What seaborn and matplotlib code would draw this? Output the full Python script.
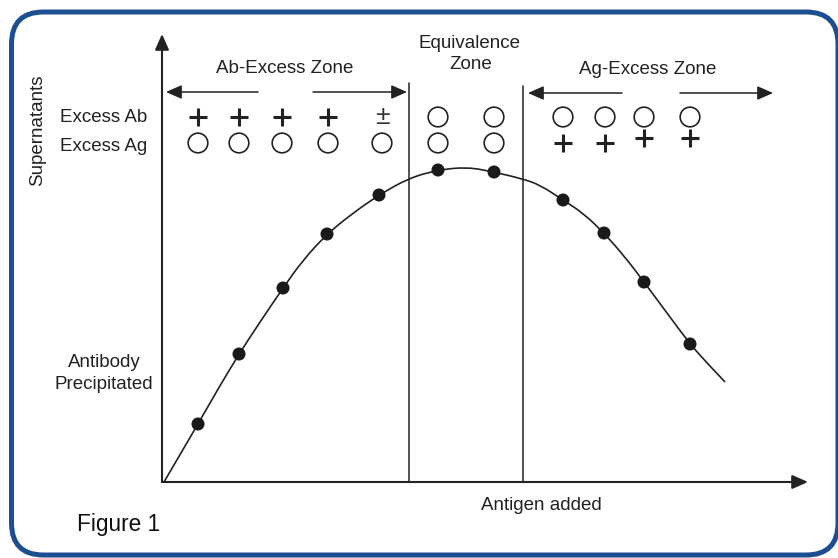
import matplotlib
matplotlib.use("Agg")
import matplotlib.pyplot as plt
from matplotlib.patches import FancyBboxPatch, PathPatch
from matplotlib.path import Path
import seaborn as sns
import pandas as pd

# ---- data (units: antigen added on x, antibody precipitated on y) ----
point_x = [36, 77, 121, 165, 217, 276, 332, 401, 442, 482, 528]
point_y = [58, 128, 194, 248, 287, 312, 310, 282, 249, 200, 138]

# smooth curve
curve_x = [2, 36, 56, 77, 98, 121, 141, 165, 191, 217, 247, 276, 305, 332, 361,
           378, 401, 421, 442, 463, 482, 505, 528, 545, 563]
curve_y = [0, 58, 93, 128, 160, 194, 222, 248, 269, 287, 304, 312, 315, 310, 303,
           297, 282, 269, 249, 225, 200, 169, 138, 119, 100]

# supernatant test symbols
sym_x = [36, 77, 120, 166, 220, 276, 332, 401, 443, 482, 528]
ab_row = ['+', '+', '+', '+', '±', 'o', 'o', 'o', 'o', 'o', 'o']
ag_row = ['o', 'o', 'o', 'o', 'o', 'o', 'o', '+', '+', '+', '+']
ab_y = [365] * 11
ag_y = [339, 339, 339, 339, 339, 339, 339, 339, 339, 344, 344]

zone_lines_x = [247, 361]
zone_lines_top = [399, 396]

INK = '#222222'

sns.set_style('white')
plt.rcParams['font.family'] = ['Liberation Sans', 'DejaVu Sans']

fig = plt.figure(figsize=(8.38, 5.58), dpi=100)
ax = fig.add_axes([0, 0, 1, 1])
ax.set_xlim(-162, 676)
ax.set_ylim(-76, 482)
ax.axis('off')

# border
border = FancyBboxPatch((-150.5, -73), 826.5, 543,
                        boxstyle="round,pad=0,rounding_size=32",
                        fill=False, edgecolor='#1c4f92', linewidth=3.6, zorder=0,
                        clip_on=False)
ax.add_patch(border)

# axes with arrows
ax.annotate('', xy=(646, 0), xytext=(0, 0),
            arrowprops=dict(arrowstyle='-|>,head_length=0.95,head_width=0.42',
                            mutation_scale=10, lw=1.5, color=INK,
                            shrinkA=0, shrinkB=0))
ax.annotate('', xy=(0, 448), xytext=(0, 0),
            arrowprops=dict(arrowstyle='-|>,head_length=0.95,head_width=0.42',
                            mutation_scale=10, lw=1.5, color=INK,
                            shrinkA=0, shrinkB=0))

# zone dividers
for xv, top in zip(zone_lines_x, zone_lines_top):
    ax.plot([xv, xv], [0, top], color=INK, lw=1.1)

# zone arrows
zone_arrows = [((96, 390), (4, 390)), ((151, 390), (245, 390)),
               ((460, 389), (366, 389)), ((518, 389), (611, 389))]
for start, end in zone_arrows:
    ax.annotate('', xy=end, xytext=start,
                arrowprops=dict(arrowstyle='-|>,head_length=0.95,head_width=0.42',
                                mutation_scale=10, lw=1.1, color=INK,
                                shrinkA=0, shrinkB=0))

# curve: traced vertices rendered as a smooth quadratic path
verts = [(curve_x[0], curve_y[0])]
codes = [Path.MOVETO]
n = len(curve_x)
for i in range(1, n - 1):
    mx = (curve_x[i] + curve_x[i + 1]) / 2
    my = (curve_y[i] + curve_y[i + 1]) / 2
    if i == n - 2:
        mx, my = curve_x[i + 1], curve_y[i + 1]
    verts += [(curve_x[i], curve_y[i]), (mx, my)]
    codes += [Path.CURVE3, Path.CURVE3]
ax.add_patch(PathPatch(Path(verts, codes), fill=False, edgecolor=INK, lw=1.2))

pts = pd.DataFrame({'x': point_x, 'y': point_y})
sns.scatterplot(data=pts, x='x', y='y', color='#1a1a1a', s=88, edgecolor='none',
                ax=ax, zorder=5)

# symbols
rows = pd.DataFrame({'x': sym_x * 2, 'y': ab_y + ag_y, 'sym': ab_row + ag_row})
circ = rows[rows.sym == 'o']
plus = rows[rows.sym == '+']
pm = rows[rows.sym == '±']
sns.scatterplot(data=circ, x='x', y='y', marker='o', s=200, facecolors='none',
                edgecolor=INK, linewidth=1.2, ax=ax)
sns.scatterplot(data=plus, x='x', y='y', marker='+', s=180, color=INK,
                linewidth=2.2, ax=ax)
for _, r in pm.iterrows():
    ax.text(r.x, r.y, '±', ha='center', va='center', fontsize=19, color='#333333')

# labels
fs = 13.5
ax.text(-124, 352, 'Supernatants', rotation=90, ha='center', va='center',
        fontsize=fs, color=INK)
ax.text(-15, 360, 'Excess Ab', ha='right', va='baseline', fontsize=fs, color=INK)
ax.text(-15, 331, 'Excess Ag', ha='right', va='baseline', fontsize=fs, color=INK)
ax.text(123, 409, 'Ab-Excess Zone', ha='center', va='baseline', fontsize=fs, color=INK)
ax.text(307, 434, 'Equivalence', ha='center', va='baseline', fontsize=fs, color=INK)
ax.text(309, 413, 'Zone', ha='center', va='baseline', fontsize=fs, color=INK)
ax.text(486, 408, 'Ag-Excess Zone', ha='center', va='baseline', fontsize=fs, color=INK)
ax.text(-58, 115, 'Antibody', ha='center', va='baseline', fontsize=fs, color=INK)
ax.text(-58, 93, 'Precipitated', ha='center', va='baseline', fontsize=fs, color=INK)
ax.text(379, -28, 'Antigen added', ha='center', va='baseline', fontsize=fs, color=INK)
ax.text(-85, -49, 'Figure 1', ha='left', va='baseline', fontsize=16.3, color='#111111')

fig.savefig('out.png', dpi=100)
